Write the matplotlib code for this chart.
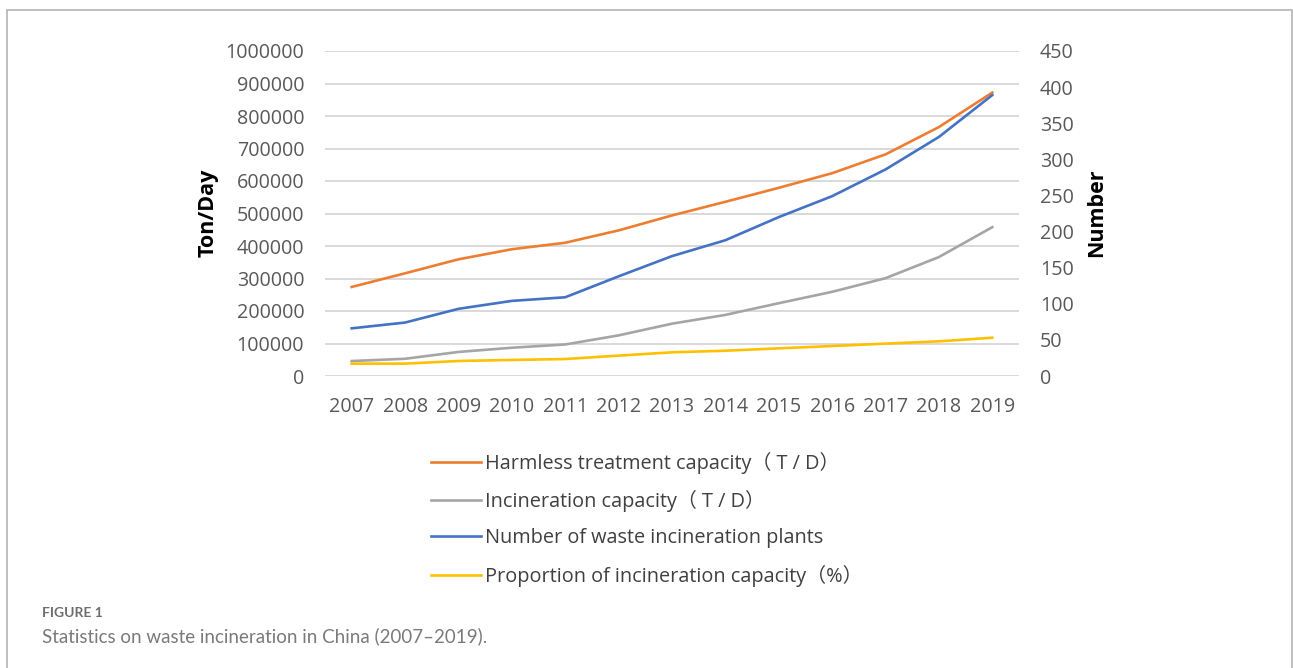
import matplotlib
matplotlib.use("Agg")
import matplotlib.pyplot as plt
from matplotlib.patches import Rectangle

# data
years = ["2007", "2008", "2009", "2010", "2011", "2012", "2013",
         "2014", "2015", "2016", "2017", "2018", "2019"]
harmless = [274000, 316000, 359000, 390000, 410000, 448000, 494000,
            536000, 579000, 624000, 682000, 766000, 872000]
incineration = [46000, 53000, 74000, 87000, 97000, 125000, 161000,
                188000, 224000, 259000, 301000, 366000, 458000]
plants = [66, 74, 93, 104, 109, 138, 166, 188, 220, 249, 286, 331, 389]
proportion = [17.1, 17.1, 20.8, 22.2, 23.5, 28.2, 32.8,
              35.0, 38.3, 41.5, 44.8, 48.0, 53.0]

left_ticks = list(range(0, 1000001, 100000))
right_ticks = list(range(0, 451, 50))

labels = ["Harmless treatment capacity（ T / D）",
          "Incineration capacity（ T / D）",
          "Number of waste incineration plants",
          "Proportion of incineration capacity（%）"]

fam = ["Open Sans", "Noto Sans CJK SC", "DejaVu Sans"]
plt.rcParams["font.family"] = fam

W, H = 1293, 668
fig = plt.figure(figsize=(W / 100, H / 100), dpi=100)

# outer frame
fig.patches.append(Rectangle((7 / W, -0.05), (1292 - 7) / W, 1.05 - 10 / H,
                             transform=fig.transFigure, fill=False,
                             edgecolor="#b4b4b4", linewidth=1.2))

ax = fig.add_axes([325 / W, 1 - 376 / H, (1019 - 325) / W, (376 - 51) / H])
ax2 = ax.twinx()

x = range(len(years))
l1, = ax.plot(x, harmless, color="#ED7D31", lw=1.9, zorder=3)
l2, = ax.plot(x, incineration, color="#A5A5A5", lw=1.9, zorder=3)
l3, = ax2.plot(x, plants, color="#4472C4", lw=1.9, zorder=3)
l4, = ax2.plot(x, proportion, color="#FFC000", lw=1.9, zorder=3)

ax.set_xlim(-0.5, len(years) - 0.5)
ax.set_ylim(0, 1000000)
ax2.set_ylim(0, 450)
ax.set_yticks(left_ticks)
ax.set_yticklabels([str(v) for v in left_ticks])
ax2.set_yticks(right_ticks)
ax2.set_yticklabels([str(v) for v in right_ticks])
ax.set_xticks(list(x))
ax.set_xticklabels(years)

ax.grid(axis="y", color="#d9d9d9", lw=1.4)
ax.set_axisbelow(True)
for a in (ax, ax2):
    for s in a.spines.values():
        s.set_visible(False)
    a.tick_params(length=0, labelsize=14.2, labelcolor="#595959")
ax.tick_params(axis="y", pad=15)
ax2.tick_params(axis="y", pad=15)
ax.tick_params(axis="x", pad=15)

fig.text(208 / W, 1 - 213 / H, "Ton/Day", rotation=90, ha="center", va="center",
         fontsize=15.5, fontweight="bold", color="black")
fig.text(1097 / W, 1 - 213 / H, "Number", rotation=90, ha="center", va="center",
         fontsize=15.5, fontweight="bold", color="black")

fig.legend([l1, l2, l3, l4], labels, loc="upper left",
           bbox_to_anchor=(413 / W, 1 - 434 / H), frameon=False,
           fontsize=14.3, handlelength=2.5, handletextpad=0.25,
           labelspacing=0.82, labelcolor="#404040")

fig.text(42 / W, 1 - 613 / H, "FIGURE 1", ha="left", va="center",
         fontsize=10, fontweight="bold", color="#6e6e6e", family="Lato")
fig.text(42 / W, 1 - 636 / H, "Statistics on waste incineration in China (2007–2019).",
         ha="left", va="center", fontsize=13.5, color="#7a7a7a", family="Lato")

fig.savefig("out.png", dpi=100)
